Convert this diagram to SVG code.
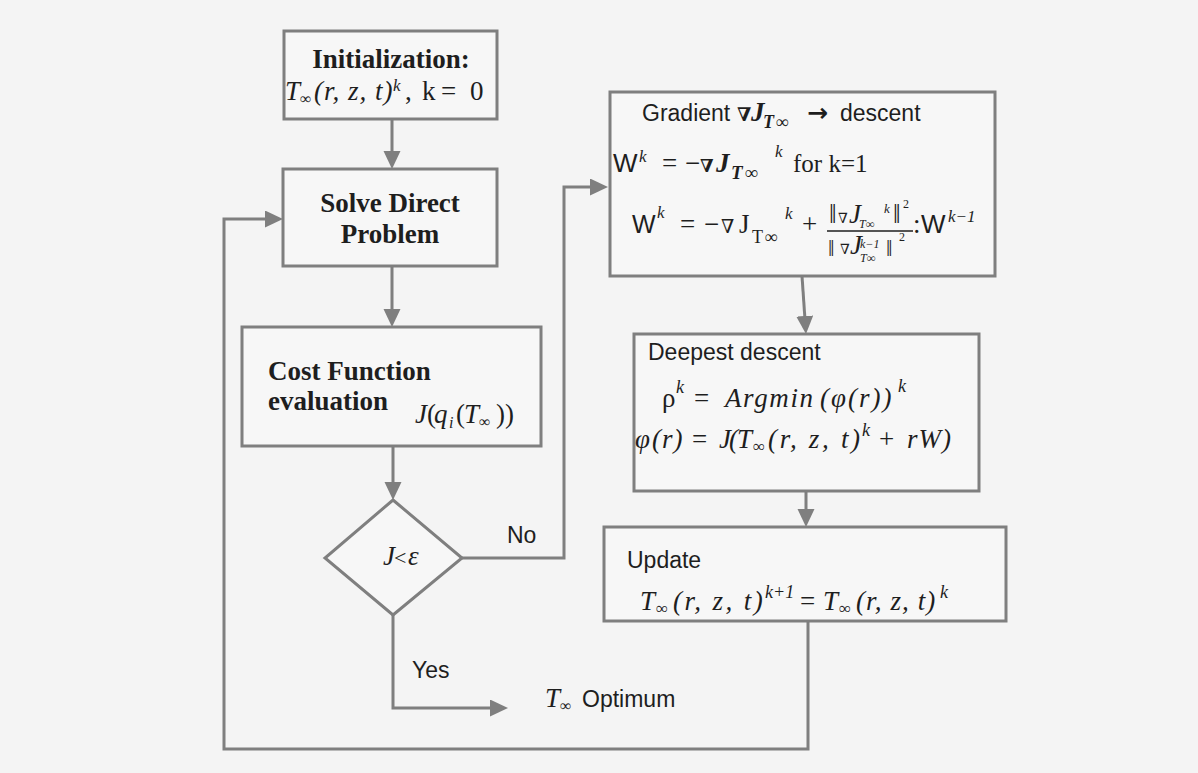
<svg xmlns="http://www.w3.org/2000/svg" width="1198" height="773" viewBox="0 0 1198 773">
<style>
.bg{fill:#f4f4f4}
.box{fill:#f7f7f7;stroke:#7f7f7f;stroke-width:3}
.ln{fill:none;stroke:#7f7f7f;stroke-width:3}
.sb{font-family:"Liberation Serif",serif;font-weight:bold;font-size:27px;fill:#1e1e1e}
.ss{font-family:"Liberation Sans",sans-serif;font-size:23px;fill:#1e1e1e}
.m{font-family:"Liberation Serif","DejaVu Serif",serif;font-style:italic;font-size:27px;fill:#1e1e1e}
.up{font-style:normal}
.sw{font-family:"Liberation Sans",sans-serif;font-style:normal}
.b{font-weight:bold}
</style>
<defs>
<marker id="ah" markerUnits="userSpaceOnUse" markerWidth="20" markerHeight="18" refX="8" refY="8.5" orient="auto">
<path d="M0,0 L18,8.5 L0,17 z" fill="#7f7f7f"/>
</marker>
</defs>
<rect class="bg" x="0" y="0" width="1198" height="773"/>

<g id="connectors">
<path class="ln" d="M392,119 V159" marker-end="url(#ah)"/>
<path class="ln" d="M392,266 V317" marker-end="url(#ah)"/>
<path class="ln" d="M393,446 V490" marker-end="url(#ah)"/>
<path class="ln" d="M462,558 H564 V187 H598" marker-end="url(#ah)"/>
<path class="ln" d="M393,615 V708 H498" marker-end="url(#ah)"/>
<path class="ln" d="M808,621 V749 H224 V219 H273" marker-end="url(#ah)"/>
<path class="ln" d="M802,276 L805.3,324" marker-end="url(#ah)"/>
<path class="ln" d="M806,491 V517" marker-end="url(#ah)"/>
</g>

<g id="init">
<rect class="box" x="284" y="31" width="213" height="88"/>
<text class="sb" x="391" y="68" text-anchor="middle">Initialization:</text>
<text class="m" y="100"><tspan x="285">T</tspan><tspan class="up" x="300" y="104" font-size="16">∞</tspan><tspan x="314" y="100" letter-spacing="1">(r, z, t)</tspan><tspan x="393" y="91" font-size="17">k</tspan><tspan class="up" x="405" y="100">,</tspan><tspan class="up" x="422">k</tspan><tspan class="up" x="441">=</tspan><tspan class="up" x="470">0</tspan></text>
</g>

<g id="solve">
<rect class="box" x="283" y="169" width="214" height="97"/>
<text class="sb" x="390" y="212" text-anchor="middle">Solve Direct</text>
<text class="sb" x="390" y="243" text-anchor="middle">Problem</text>
</g>

<g id="cost">
<rect class="box" x="242" y="327" width="299" height="119"/>
<text class="sb" x="268" y="380">Cost Function</text>
<text class="sb" x="268" y="410">evaluation</text>
<text class="m" y="423" font-size="26"><tspan x="415">J</tspan><tspan class="up" x="427">(</tspan><tspan x="434">q</tspan><tspan x="449" y="428" font-size="16">i</tspan><tspan class="up" x="456" y="423">(</tspan><tspan x="464">T</tspan><tspan class="up" x="479" y="427" font-size="16">∞</tspan><tspan class="up" x="496" y="423">))</tspan></text>
</g>

<g id="decision">
<polygon class="box" points="393,500 462,558 393,615 325,558"/>
<text class="m" y="565" font-size="24"><tspan x="383">J</tspan><tspan class="up" x="394" font-size="22">&lt;</tspan><tspan x="408">ε</tspan></text>
</g>

<g id="labels">
<text class="ss" x="507" y="543">No</text>
<text class="ss" x="412" y="678">Yes</text>
</g>

<g id="optimum">
<text class="m" y="707" font-size="26"><tspan x="545">T</tspan><tspan class="up" x="560" y="711" font-size="16">∞</tspan></text>
<text class="ss" x="582" y="707" font-size="24">Optimum</text>
</g>

<g id="gradient">
<rect class="box" x="610" y="92" width="385" height="184"/>
<text class="ss" x="642" y="121">Gradient</text>
<text class="m b" y="121" font-size="25"><tspan x="737" font-size="19">∇</tspan><tspan x="751">J</tspan><tspan x="763" y="128" font-size="18" letter-spacing="1.5">T∞</tspan></text>
<text x="807" y="121" font-family="'DejaVu Sans',sans-serif" font-weight="bold" font-size="25" fill="#1e1e1e">→</text>
<text class="ss" x="840" y="121">descent</text>

<text class="m" y="172" font-size="26"><tspan class="sw" x="613" font-size="26">W</tspan><tspan x="639" y="162" font-size="17">k</tspan><tspan class="up" x="662" y="172">=</tspan><tspan class="up" x="685">−</tspan><tspan class="b" x="700" font-size="18">∇</tspan><tspan class="b" x="716">J</tspan><tspan class="b" x="731" y="179" font-size="19" letter-spacing="2">T∞</tspan><tspan x="775" y="157" font-size="17">k</tspan><tspan class="up" x="793" y="172" font-size="25">for k=1</tspan></text>

<text class="m" y="233" font-size="26"><tspan class="sw" x="632" font-size="25">W</tspan><tspan x="657" y="218" font-size="17">k</tspan><tspan class="up" x="680" y="233">=</tspan><tspan class="up" x="704">−</tspan><tspan class="up" x="721" font-size="19">∇</tspan><tspan class="up" x="739">J</tspan><tspan class="up" x="752" y="243" font-size="18" letter-spacing="1.5">T∞</tspan><tspan x="785" y="219" font-size="17">k</tspan><tspan class="up" x="802" y="233">+</tspan><tspan class="up" x="913">:</tspan><tspan class="sw" x="921" font-size="26">W</tspan><tspan x="948" y="222" font-size="17">k−1</tspan></text>
<line x1="827" y1="231" x2="913" y2="231" stroke="#1e1e1e" stroke-width="1.3"/>
<text class="m" y="223" font-size="18"><tspan class="up" x="829">‖</tspan><tspan x="838" font-size="14">∇</tspan><tspan x="849">J</tspan><tspan x="859" y="228" font-size="12">T∞</tspan><tspan x="884" y="213" font-size="13">k</tspan><tspan class="up" x="893" y="223">‖</tspan><tspan class="up" x="903" y="208" font-size="12">2</tspan></text>
<text class="m" y="256" font-size="18"><tspan class="up" x="828" font-size="23">‖</tspan><tspan x="840" y="254" font-size="14">∇</tspan><tspan x="850">J</tspan><tspan x="860" y="248" font-size="12">k−1</tspan><tspan x="860" y="262" font-size="12">T∞</tspan><tspan class="up" x="886" y="256" font-size="23">‖</tspan><tspan class="up" x="899" y="241" font-size="12">2</tspan></text>
</g>

<g id="deepest">
<rect class="box" x="634" y="334" width="345" height="157"/>
<text class="ss" x="648" y="360">Deepest descent</text>
<text class="m" y="407" font-size="28"><tspan class="up" x="662">ρ</tspan><tspan x="676" y="393" font-size="18">k</tspan><tspan class="up" x="694" y="407">=</tspan><tspan x="725" letter-spacing="1.6">Argmin</tspan><tspan x="820" letter-spacing="2">(φ(r))</tspan><tspan x="898" y="392" font-size="18">k</tspan></text>
<text class="m" y="448" font-size="28"><tspan x="635">φ</tspan><tspan x="652" letter-spacing="1">(r)</tspan><tspan class="up" x="692">=</tspan><tspan x="719">J</tspan><tspan x="729">(</tspan><tspan x="737">T</tspan><tspan class="up" x="753" y="452" font-size="17">∞</tspan><tspan x="768" y="448" letter-spacing="2.7">(r, z, t)</tspan><tspan x="862" y="436" font-size="18">k</tspan><tspan class="up" x="879" y="448">+</tspan><tspan x="907" letter-spacing="1">rW)</tspan></text>
</g>

<g id="update">
<rect class="box" x="604" y="527" width="402" height="94"/>
<text class="ss" x="627" y="568">Update</text>
<text class="m" y="610" font-size="27"><tspan x="640">T</tspan><tspan class="up" x="656" y="614" font-size="17">∞</tspan><tspan x="673" y="610" letter-spacing="2.4">(r, z, t)</tspan><tspan x="765" y="598" font-size="18">k+1</tspan><tspan class="up" x="800" y="610">=</tspan><tspan x="823">T</tspan><tspan class="up" x="839" y="614" font-size="17">∞</tspan><tspan x="856" y="610" letter-spacing="1.1">(r, z, t)</tspan><tspan x="940" y="598" font-size="18">k</tspan></text>
</g>
</svg>
